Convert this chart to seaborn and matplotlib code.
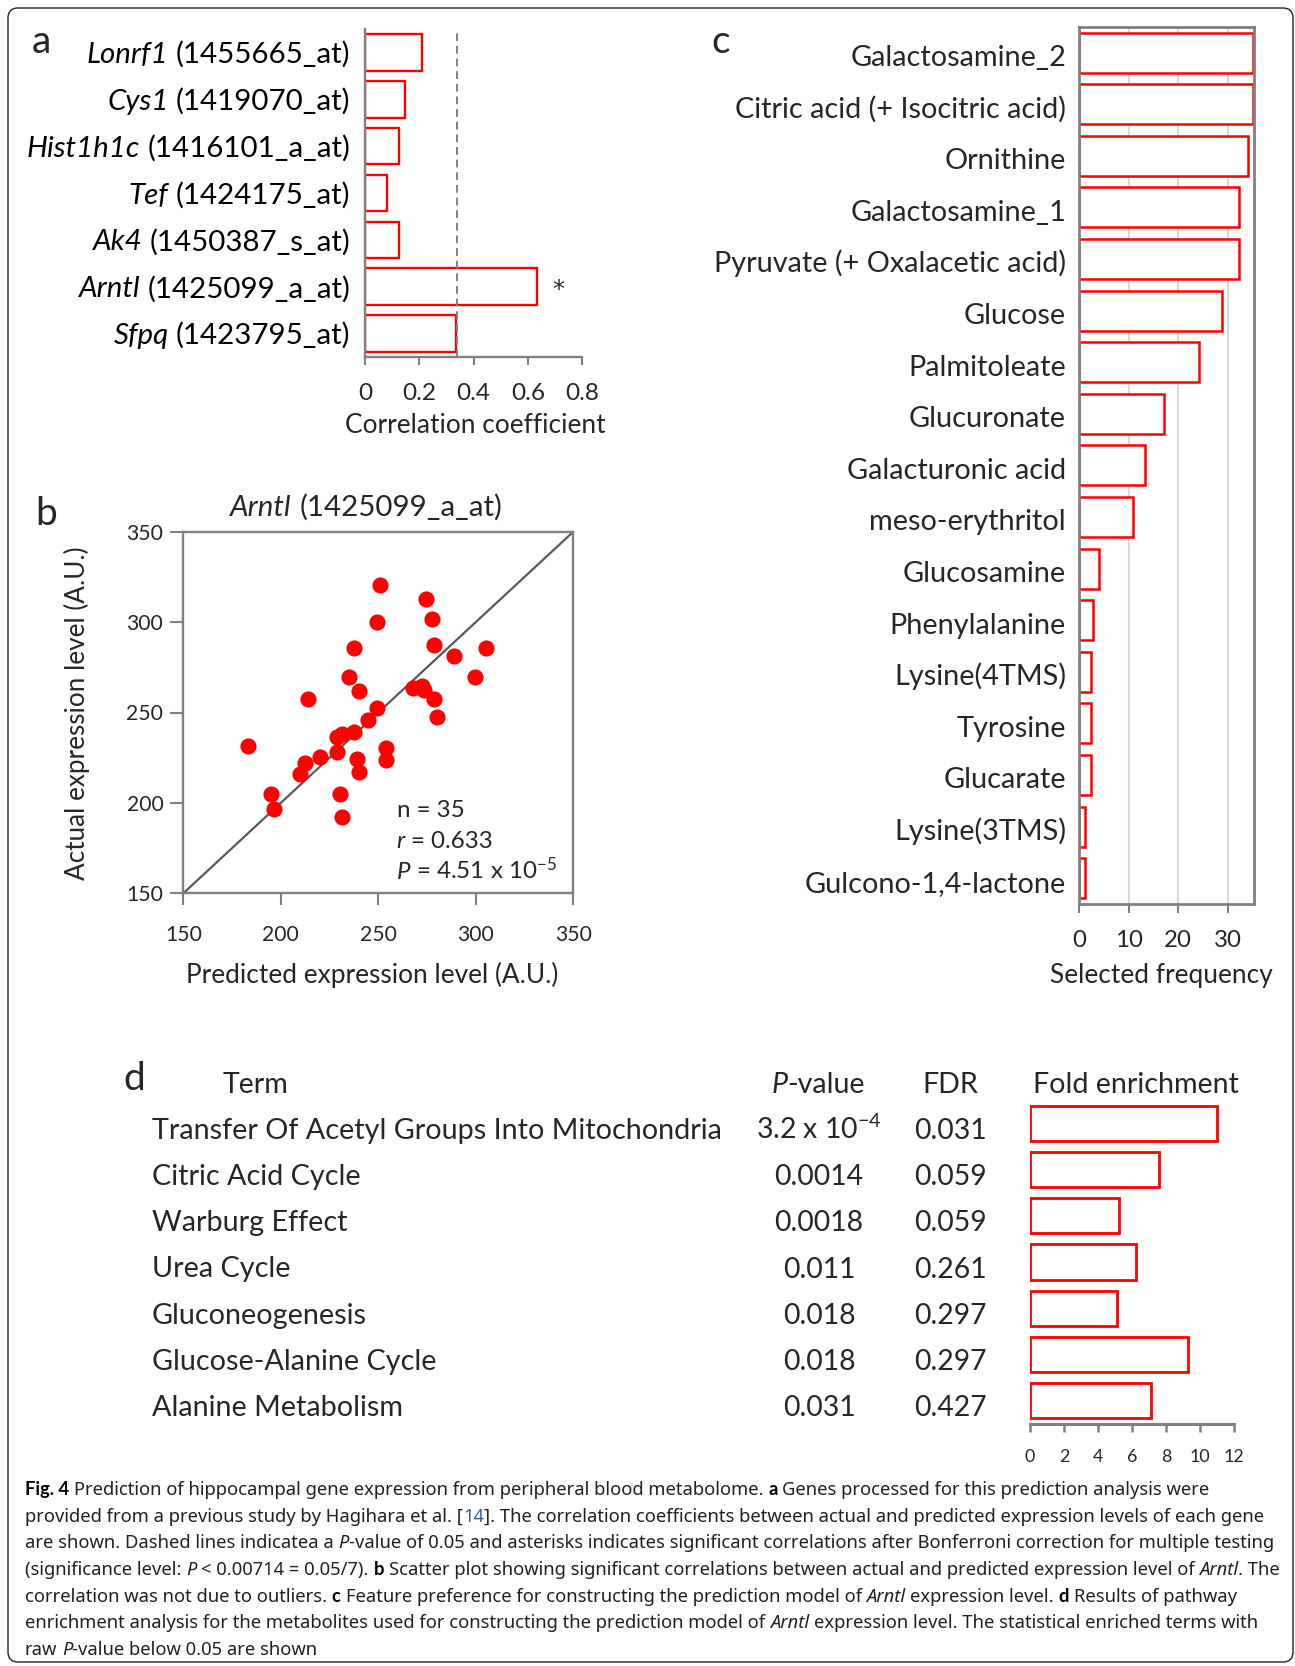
import matplotlib
matplotlib.use("Agg")
import matplotlib.pyplot as plt
import seaborn as sns
import numpy as np
import pandas as pd
from matplotlib.patches import FancyBboxPatch
from matplotlib.transforms import IdentityTransform

# ---------------- DATA ----------------
genes = ["Lonrf1", "Cys1", "Hist1h1c", "Tef", "Ak4", "Arntl", "Sfpq"]
probes = ["(1455665_at)", "(1419070_at)", "(1416101_a_at)", "(1424175_at)",
          "(1450387_s_at)", "(1425099_a_at)", "(1423795_at)"]
corr = [0.211, 0.147, 0.126, 0.082, 0.126, 0.633, 0.335]
corr_p05 = 0.337
signif = ["", "", "", "", "", "*", ""]
corr_ticks = [0, 0.2, 0.4, 0.6, 0.8]
corr_tick_labels = ["0", "0.2", "0.4", "0.6", "0.8"]

pred = [250.9, 274.3, 249.3, 277.4, 237.5, 278.7, 288.8, 305.2, 234.8, 299.4,
        240.3, 267.6, 272.2, 273.4, 214.1, 278.7, 249.3, 280.1, 244.9, 237.5,
        231.5, 228.6, 228.6, 183.2, 253.9, 253.9, 238.9, 240.3, 220.1, 212.2,
        209.8, 195.0, 196.5, 230.3, 231.5]
actual = [320.5, 312.6, 299.9, 301.5, 285.9, 287.3, 281.2, 285.9, 269.8, 269.8,
          261.9, 263.4, 264.7, 262.4, 257.3, 257.3, 252.3, 247.5, 245.9, 239.4,
          238.1, 236.3, 228.3, 231.7, 230.6, 223.7, 224.1, 217.3, 225.6, 222.3,
          215.8, 204.7, 196.8, 204.7, 192.0]
b_ticks = [150, 200, 250, 300, 350]
b_gene, b_probe = "Arntl", "(1425099_a_at)"
b_n, b_r, b_p = "35", "0.633", "4.51 x $10^{-5}$"

metabolites = ["Galactosamine_2", "Citric acid (+ Isocitric acid)", "Ornithine",
               "Galactosamine_1", "Pyruvate (+ Oxalacetic acid)", "Glucose",
               "Palmitoleate", "Glucuronate", "Galacturonic acid", "meso-erythritol",
               "Glucosamine", "Phenylalanine", "Lysine(4TMS)", "Tyrosine",
               "Glucarate", "Lysine(3TMS)", "Gulcono-1,4-lactone"]
freq = [35, 35, 34, 32.2, 32.2, 28.8, 24.1, 17.2, 13.2, 10.9, 4.0, 2.8, 2.3, 2.3,
        2.3, 1.1, 1.1]
freq_ticks = [0, 10, 20, 30]

terms = ["Transfer Of Acetyl Groups Into Mitochondria", "Citric Acid Cycle",
         "Warburg Effect", "Urea Cycle", "Gluconeogenesis",
         "Glucose-Alanine Cycle", "Alanine Metabolism"]
pvalues = ["3.2 x $10^{-4}$", "0.0014", "0.0018", "0.011", "0.018", "0.018", "0.031"]
fdr = ["0.031", "0.059", "0.059", "0.261", "0.297", "0.297", "0.427"]
fold = [11.0, 7.6, 5.25, 6.25, 5.1, 9.3, 7.1]
fold_ticks = [0, 2, 4, 6, 8, 10, 12]

caption_lines = [
    [("Fig. 4", "b"), (" Prediction of hippocampal gene expression from peripheral blood metabolome. ", "r"),
     ("a", "b"), (" Genes processed for this prediction analysis were", "r")],
    [("provided from a previous study by Hagihara et al. [", "r"), ("14", "l"),
     ("]. The correlation coefficients between actual and predicted expression levels of each gene", "r")],
    [("are shown. Dashed lines indicatea a ", "r"), ("P", "i"),
     ("-value of 0.05 and asterisks indicates significant correlations after Bonferroni correction for multiple testing", "r")],
    [("(significance level: ", "r"), ("P", "i"), (" < 0.00714 = 0.05/7). ", "r"), ("b", "b"),
     (" Scatter plot showing significant correlations between actual and predicted expression level of ", "r"),
     ("Arntl", "i"), (". The", "r")],
    [("correlation was not due to outliers. ", "r"), ("c", "b"),
     (" Feature preference for constructing the prediction model of ", "r"), ("Arntl", "i"),
     (" expression level. ", "r"), ("d", "b"), (" Results of pathway", "r")],
    [("enrichment analysis for the metabolites used for constructing the prediction model of ", "r"),
     ("Arntl", "i"), (" expression level. The statistical enriched terms with", "r")],
    [("raw ", "r"), ("P", "i"), ("-value below 0.05 are shown", "r")],
]

# ---------------- STYLE ----------------
sns.set_style("white")
FAM = ["Lato", "DejaVu Sans"]
CAPFAM = ["Noto Sans", "DejaVu Sans"]
BOLDFAM = ["Lato", "DejaVu Sans"]
plt.rcParams["font.family"] = FAM
plt.rcParams["mathtext.fontset"] = "custom"
plt.rcParams["mathtext.rm"] = "Lato"
plt.rcParams["mathtext.it"] = "Lato:italic"
plt.rcParams["mathtext.bf"] = "Lato:bold"

RED = "#ff0000"
GRAY = "#808080"

W, H = 1295, 1666
fig = plt.figure(figsize=(W / 100, H / 100), dpi=100)
fig.patch.set_facecolor("white")
R = fig.canvas.get_renderer()
PT = 0.72  # points per pixel


def fx(x):
    return x / W


def fy(y):
    return 1 - y / H


def tw(s, **kw):
    t = fig.text(0, 0, s, **kw)
    w = t.get_window_extent(R).width
    t.remove()
    return w


def fit(s, px, **kw):
    return 20 * px / tw(s, size=20, **kw)


def add_axes_px(x0, y0, x1, y1):
    return fig.add_axes([fx(x0), fy(y1), (x1 - x0) / W, (y1 - y0) / H])


def dpx(ax, x, y):
    X, Y = ax.transData.transform((x, y))
    return X, H - Y


def rich(x, y, segs, ha="left", **base):
    items, total = [], 0.0
    for s, kw in segs:
        k = dict(base)
        k.update(kw)
        core = s.strip(" ")
        lead = len(s) - len(s.lstrip(" "))
        trail = len(s) - len(s.rstrip(" "))
        sp = (tw("a a", **k) - tw("aa", **k)) if (lead or trail) else 0
        w = tw(core, **k) if core else 0
        items.append((core, k, lead * sp, w, trail * sp))
        total += lead * sp + w + trail * sp
    cur = x if ha == "left" else (x - total if ha == "right" else x - total / 2)
    for core, k, l, w, t in items:
        cur += l
        if core:
            fig.text(fx(cur), fy(y), core, ha="left", va="baseline", **k)
        cur += w + t
    return total


IT = {"style": "italic"}
RG = {}

# font sizes fitted to the reference text widths
S_lab = fit("(1416101_a_at)", 202)
S_atick = fit("0.8", 34)
S_axlab = fit("Correlation coefficient", 260)
S_btick = fit("150", 36.7)
S_bxlab = fit("Predicted expression level (A.U.)", 372)
S_bylab = fit("Actual expression level (A.U.)", 333)
S_ann = fit("n = 35", 68)
S_clab = fit("Citric acid (+ Isocitric acid)", 332)
S_ctick = fit("30", 27.7)
S_cxlab = fit("Selected frequency", 223)
S_dterm = fit("Transfer Of Acetyl Groups Into Mitochondria", 571)
S_dhead = fit("Fold enrichment", 206)
S_dval = fit("0.0014", 89)
S_dtick = fit("10", 20.7)
S_cap = fit("provided from a previous study by Hagihara et al. [14]. The correlation coefficients "
            "between actual and predicted expression levels of each gene", 1237, family=CAPFAM)
S_panel = 28


def px_of(pt):
    return pt / PT


def style_spines(ax, which, lw=1.7, color=GRAY):
    for s in ["top", "right", "left", "bottom"]:
        if s in which:
            ax.spines[s].set_visible(True)
            ax.spines[s].set_color(color)
            ax.spines[s].set_linewidth(lw)
        else:
            ax.spines[s].set_visible(False)


def xpad(center, axis_y, ticklen, size_pt):
    return (center - axis_y - ticklen - 0.40 * px_of(size_pt)) * PT


# ---------------- PANEL a ----------------
axa = add_axes_px(365, 29, 582.3, 357)
dfa = pd.DataFrame({"gene": genes, "r": corr})
sns.barplot(data=dfa, x="r", y="gene", orient="h", ax=axa, color="white",
            edgecolor=RED, linewidth=1.7, width=0.78, saturation=1, errorbar=None)
axa.set_xlim(0, 0.8)
axa.set_ylim(len(genes) - 0.5, -0.5)
axa.axvline(corr_p05, color=GRAY, ls=(0, (4, 2.5)), lw=1.4, zorder=5)
style_spines(axa, ["left", "bottom"])
axa.set_xticks(corr_ticks)
axa.set_xticklabels(corr_tick_labels)
axa.tick_params(axis="x", bottom=True, length=8 * PT, width=1.5, color=GRAY,
                labelsize=S_atick, pad=xpad(393, 357, 8, S_atick))
axa.tick_params(axis="y", left=False, labelleft=False)
axa.set_xlabel("")
axa.set_ylabel("")
S_star = 24 * PT
for i, (g, p) in enumerate(zip(genes, probes)):
    _, yc = dpx(axa, 0, i)
    rich(350.6, yc + 0.36 * px_of(S_lab), [(g, IT), (" " + p, RG)], ha="right",
         size=S_lab, color="black")
    if signif[i]:
        xs, _ = dpx(axa, corr[i], i)
        fig.text(fx(xs + 21), fy(yc - 2 + 0.53 * 24), signif[i], ha="center",
                 va="baseline", size=S_star, family=["DejaVu Sans"])
fig.text(fx(475), fy(432.7), "Correlation coefficient", ha="center", va="baseline",
         size=S_axlab)

# ---------------- PANEL b ----------------
axb = add_axes_px(183.3, 531.7, 573.3, 893.3)
sns.scatterplot(x=pred, y=actual, ax=axb, color=RED, s=135, linewidth=0, zorder=3)
axb.axline((b_ticks[0], b_ticks[0]), slope=1, color="#595959", lw=1.6, zorder=2)
axb.set_xlim(b_ticks[0], b_ticks[-1])
axb.set_ylim(b_ticks[0], b_ticks[-1])
axb.set_xticks(b_ticks)
axb.set_yticks(b_ticks)
style_spines(axb, ["left", "bottom", "top", "right"])
axb.tick_params(axis="x", bottom=True, length=11.7 * PT, width=1.5, color=GRAY,
                labelsize=S_btick, pad=xpad(933.3, 893.3, 11.7, S_btick))
axb.tick_params(axis="y", left=True, length=13 * PT, width=1.5, color=GRAY,
                labelsize=S_btick, pad=7 * PT)
axb.set_xlabel("")
axb.set_ylabel("")
rich(366.3, 516, [(b_gene, IT), (" " + b_probe, RG)], ha="center", size=S_lab)
fig.text(fx(396.7), fy(817.3), "n = " + b_n, ha="left", va="baseline", size=S_ann)
rich(396.7, 848.3, [("r", IT), (" = " + b_r, RG)], size=S_ann)
rich(396.7, 879.3, [("P", IT), (" = " + b_p, RG)], size=S_ann)
fig.text(fx(371.7), fy(982.7), "Predicted expression level (A.U.)", ha="center",
         va="baseline", size=S_bxlab)
fig.text(fx(77), fy(713), "Actual expression level (A.U.)", ha="center", va="center",
         rotation=90, size=S_bylab)

# ---------------- PANEL c ----------------
axc = add_axes_px(1079.3, 26.7, 1254, 904)
dfc = pd.DataFrame({"m": metabolites, "f": freq})
sns.barplot(data=dfc, x="f", y="m", orient="h", ax=axc, color="white",
            edgecolor=RED, linewidth=1.8, width=0.775, saturation=1, errorbar=None)
axc.set_xlim(0, 35.3)
axc.set_ylim(len(metabolites) - 0.5, -0.5)
axc.set_xticks(freq_ticks)
axc.xaxis.grid(True, color="#d9d9d9", lw=1.5)
axc.yaxis.grid(False)
axc.set_axisbelow(True)
style_spines(axc, ["left", "bottom", "top", "right"], lw=2.0)
axc.tick_params(axis="x", bottom=True, length=9 * PT, width=1.5, color=GRAY,
                labelsize=S_ctick, pad=xpad(940, 904, 9, S_ctick))
axc.tick_params(axis="y", left=False, labelleft=False)
axc.set_xlabel("")
axc.set_ylabel("")
for i, m in enumerate(metabolites):
    _, yc = dpx(axc, 0, i)
    fig.text(fx(1066), fy(yc + 0.36 * px_of(S_clab) + 3), m, ha="right", va="baseline",
             size=S_clab)
fig.text(fx(1161.7), fy(982.7), "Selected frequency", ha="center", va="baseline",
         size=S_cxlab)

# ---------------- PANEL d ----------------
axd = add_axes_px(1030, 1100, 1234, 1424)
dfd = pd.DataFrame({"t": terms, "f": fold})
sns.barplot(data=dfd, x="f", y="t", orient="h", ax=axd, color="white",
            edgecolor=RED, linewidth=2.0, width=0.76, saturation=1, errorbar=None)
axd.set_xlim(0, 12)
axd.set_ylim(len(terms) - 0.5, -0.5)
axd.set_xticks(fold_ticks)
style_spines(axd, ["bottom"], lw=2.2)
axd.tick_params(axis="x", bottom=True, length=7.5 * PT, width=1.8, color=GRAY,
                labelsize=S_dtick, pad=xpad(1456, 1424, 7.5, S_dtick))
axd.tick_params(axis="y", left=False, labelleft=False)
axd.set_xlabel("")
axd.set_ylabel("")
for i in range(len(terms)):
    _, yc = dpx(axd, 0, i)
    base = yc + 15.5
    fig.text(fx(151.7), fy(base), terms[i], ha="left", va="baseline", size=S_dterm)
    fig.text(fx(819), fy(base), pvalues[i], ha="center", va="baseline", size=S_dval)
    fig.text(fx(950), fy(base), fdr[i], ha="center", va="baseline", size=S_dval)
fig.text(fx(222.7), fy(1093.3), "Term", ha="left", va="baseline", size=S_dhead)
rich(818, 1093.3, [("P", IT), ("-value", RG)], ha="center", size=S_dhead)
fig.text(fx(950), fy(1093.3), "FDR", ha="center", va="baseline", size=S_dhead)
fig.text(fx(1136.3), fy(1093.3), "Fold enrichment", ha="center", va="baseline", size=S_dhead)

# ---------------- panel letters ----------------
for lab, x, y in [("a", 32, 53), ("b", 35, 525), ("c", 711, 53), ("d", 123, 1090)]:
    fig.text(fx(x), fy(y), lab, ha="left", va="baseline", size=S_panel)

# ---------------- caption ----------------
cap_styles = {"r": {}, "b": {"weight": "bold", "color": "#000000", "family": BOLDFAM},
              "i": {"style": "italic"}, "l": {"color": "#2a5db0"}}
for j, line in enumerate(caption_lines):
    segs = [(s, cap_styles[k]) for s, k in line]
    rich(25, 1495 + 26.67 * j, segs, ha="left", size=S_cap, family=CAPFAM,
         color="#231f20")

# ---------------- border ----------------
border = FancyBboxPatch((8, 4), 1285, 1654, boxstyle="round,pad=0,rounding_size=10",
                        transform=IdentityTransform(), fill=False, ec="#222222", lw=1.0)
fig.add_artist(border)

fig.savefig("out.png", dpi=100, facecolor="white")
